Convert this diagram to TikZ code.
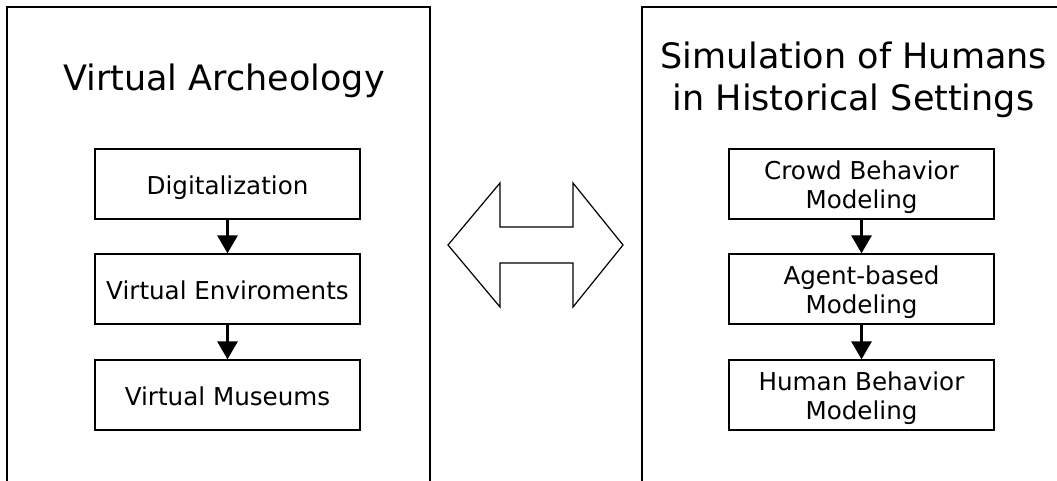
\documentclass[tikz,border=0pt]{standalone}
\usepackage{fontspec}
\setmainfont{DejaVu Sans}
\usetikzlibrary{arrows.meta}

\begin{document}
\begin{tikzpicture}[x=1pt, y=-1pt,
  frameline/.style={line width=1.3pt},
  stepbox/.style={draw, line width=1.3pt, minimum width=265pt, minimum height=70pt,
    inner sep=0pt, align=center, font=\fontsize{24.6}{29}\selectfont,
    text depth=6pt, text height=26pt},
  twoline/.style={text height=54pt},
  titletext/.style={inner sep=0pt, anchor=base, align=center,
    font=\fontsize{35}{42}\selectfont},
  flow/.style={line width=3pt, -{Triangle[width=20pt,length=18pt]}}
]
\clip (0,0) rectangle (1057,480);

% outer frames, open at the bottom (and at the right for the second one)
\draw[frameline] (7,490) -- (7,7) -- (430,7) -- (430,490);
\draw[frameline] (642,490) -- (642,7) -- (1070,7);

% titles
\node[titletext] (ttlA) at (224,90) {Virtual Archeology};
\node[titletext] (ttlB) at (853.5,68) {Simulation of Humans};
\node[titletext] (ttlC) at (853.5,110) {in Historical Settings};

% left column
\node[stepbox] (a1) at (227.5,184) {Digitalization};
\node[stepbox] (a2) at (227.5,289) {Virtual Enviroments};
\node[stepbox] (a3) at (227.5,395) {Virtual Museums};
\draw[flow] (a1.south) -- (a2.north);
\draw[flow] (a2.south) -- (a3.north);

% right column
\node[stepbox, twoline] (b1) at (861.5,184) {Crowd Behavior\\Modeling};
\node[stepbox, twoline] (b2) at (861.5,289) {Agent-based\\Modeling};
\node[stepbox, twoline] (b3) at (861.5,395) {Human Behavior\\Modeling};
\draw[flow] (b1.south) -- (b2.north);
\draw[flow] (b2.south) -- (b3.north);

% double-headed block arrow between the two frames
\draw[line width=1.2pt, line join=miter]
  (448,245) -- (500,183) -- (500,227) -- (573,227) -- (573,183) -- (623,245)
  -- (573,307) -- (573,263) -- (500,263) -- (500,307) -- cycle;
\end{tikzpicture}
\end{document}
